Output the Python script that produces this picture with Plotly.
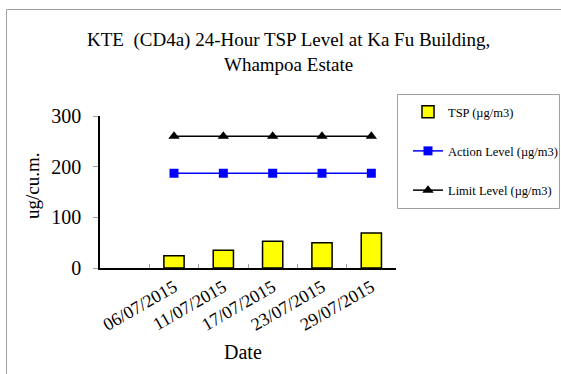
import plotly.graph_objects as go

dates = ["06/07/2015", "11/07/2015", "17/07/2015", "23/07/2015", "29/07/2015"]
categories = [" "] + dates
tsp = [24, 35, 53, 50, 69]
action_level = [187, 187, 187, 187, 187]
limit_level = [260, 260, 260, 260, 260]
y_ticks = [0, 100, 200, 300]

FONT = "Liberation Serif"
L, R, T, B = 100, 396, 116, 268
W, H = 561, 374

def px_x(p):
    return (p - L) / (R - L)

def px_y(p):
    return (B - p) / (B - T)

fig = go.Figure()
fig.add_trace(go.Bar(
    x=dates, y=tsp, name="TSP (µg/m3)", width=0.41,
    marker=dict(color="#FFFF00", line=dict(color="black", width=1.5)),
    legendgroup="a",
))
fig.add_trace(go.Scatter(
    x=dates, y=action_level, name="Action Level (µg/m3)", mode="lines+markers",
    line=dict(color="#0000FF", width=1.5),
    marker=dict(symbol="square", size=9, color="#0000FF"),
    legendgroup="b",
))
fig.add_trace(go.Scatter(
    x=dates, y=limit_level, name="Limit Level (µg/m3)", mode="lines+markers",
    line=dict(color="black", width=1.5),
    marker=dict(symbol="triangle-up", size=10, color="black"),
    legendgroup="c",
))

fig.update_layout(
    width=W, height=H,
    margin=dict(l=L, r=W - R, t=T, b=H - B, autoexpand=False),
    paper_bgcolor="white", plot_bgcolor="white",
    font=dict(family=FONT, color="black"),
    xaxis=dict(
        type="category", categoryorder="array", categoryarray=categories,
        range=[-0.5, 5.5], tickangle=-30, tickson="boundaries",
        ticks="inside", ticklen=4, tickcolor="#A0A0A0",
        showline=True, linecolor="black", linewidth=1.5,
        showgrid=False, zeroline=False,
        tickfont=dict(family=FONT, size=18, color="black"),
    ),
    yaxis=dict(
        range=[0, 300], tickvals=y_ticks, ticks="outside", ticklen=5,
        tickcolor="#A0A0A0", showline=True, linecolor="black", linewidth=1.5,
        showgrid=False, zeroline=False, ticklabelstandoff=8,
        tickfont=dict(family=FONT, size=20, color="black"),
    ),
    legend=dict(
        xref="container", yref="container",
        x=408 / W, y=1 - 97 / H, xanchor="left", yanchor="top",
        bgcolor="rgba(0,0,0,0)", borderwidth=0,
        tracegroupgap=20, traceorder="grouped",
        font=dict(family=FONT, size=12.5, color="black"),
    ),
    showlegend=True,
)

# title (two centred lines)
fig.add_annotation(text="KTE  (CD4a) 24-Hour TSP Level at Ka Fu Building,<br>Whampoa Estate",
                   xref="paper", yref="paper", x=px_x(288), y=px_y(52),
                   xanchor="center", yanchor="middle", showarrow=False,
                   font=dict(family=FONT, size=19, color="black"))

# legend frame
fig.add_shape(type="rect", xref="paper", yref="paper",
              x0=px_x(397.5), x1=px_x(559.5), y0=px_y(208.5), y1=px_y(94.5),
              line=dict(color="#A0A0A0", width=1), fillcolor="rgba(0,0,0,0)")
# chart outer frame (left and top edges visible)
fig.add_shape(type="path", xref="paper", yref="paper",
              path=f"M {px_x(6.5)},{px_y(380)} L {px_x(6.5)},{px_y(9.5)} L {px_x(570)},{px_y(9.5)}",
              line=dict(color="#A0A0A0", width=1))

fig.add_annotation(text="ug/cu.m.", xref="paper", yref="paper",
                   x=px_x(32), y=px_y(186), textangle=-90, showarrow=False,
                   xanchor="center", yanchor="middle",
                   font=dict(family=FONT, size=19, color="black"))
fig.add_annotation(text="Date", xref="paper", yref="paper",
                   x=px_x(243), y=px_y(352), showarrow=False,
                   xanchor="center", yanchor="middle",
                   font=dict(family=FONT, size=20, color="black"))

fig.write_html("out.html", config={"displayModeBar": False},
               post_script="document.body.style.margin='0px';")
